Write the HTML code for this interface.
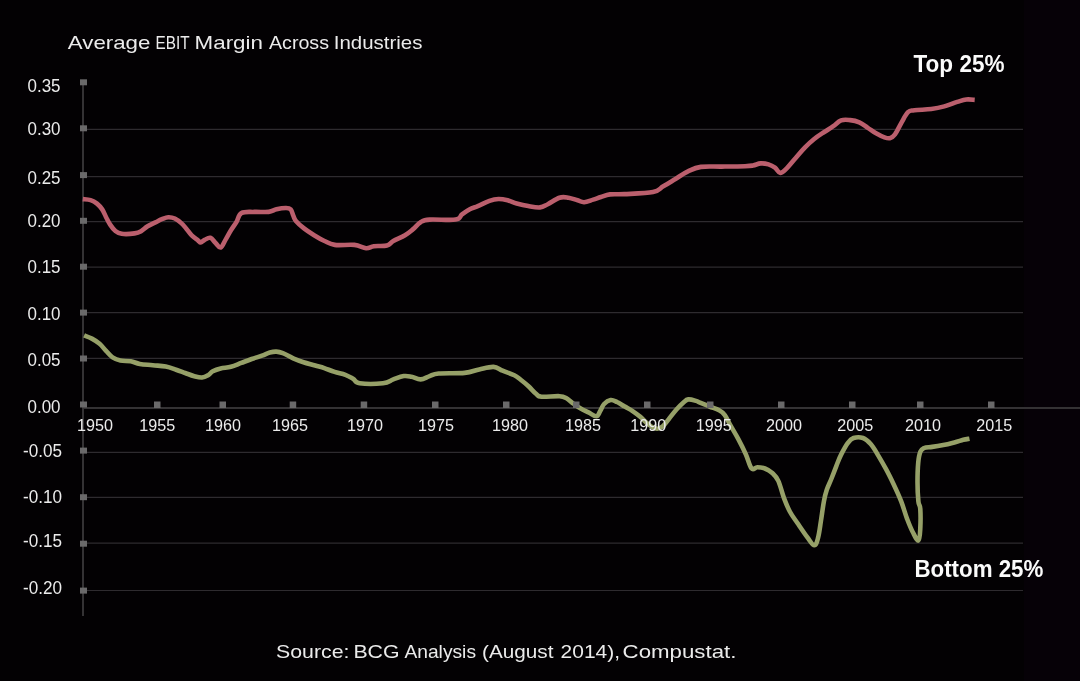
<!DOCTYPE html>
<html><head><meta charset="utf-8"><title>Average EBIT Margin</title>
<style>
html,body{margin:0;padding:0;background:#030103;width:1080px;height:681px;overflow:hidden}
svg{display:block;will-change:transform}
text{font-family:"Liberation Sans",sans-serif;fill:#ebebeb}
</style></head><body>
<svg width="1080" height="681" viewBox="0 0 1080 681">
<rect x="0" y="0" width="1080" height="681" fill="#030103"/>
<rect x="1024" y="0" width="56" height="681" fill="#060107"/>
<line x1="84" y1="129.4" x2="1023" y2="129.4" stroke="#2e2b2f" stroke-width="1.2"/>
<line x1="84" y1="176.6" x2="1023" y2="176.6" stroke="#2e2b2f" stroke-width="1.2"/>
<line x1="84" y1="221.7" x2="1023" y2="221.7" stroke="#2e2b2f" stroke-width="1.2"/>
<line x1="84" y1="267.2" x2="1023" y2="267.2" stroke="#2e2b2f" stroke-width="1.2"/>
<line x1="84" y1="312.6" x2="1023" y2="312.6" stroke="#2e2b2f" stroke-width="1.2"/>
<line x1="84" y1="358.4" x2="1023" y2="358.4" stroke="#2e2b2f" stroke-width="1.2"/>
<line x1="84" y1="452.3" x2="1023" y2="452.3" stroke="#2e2b2f" stroke-width="1.2"/>
<line x1="84" y1="497.3" x2="1023" y2="497.3" stroke="#2e2b2f" stroke-width="1.2"/>
<line x1="84" y1="543.1" x2="1023" y2="543.1" stroke="#2e2b2f" stroke-width="1.2"/>
<line x1="84" y1="590.5" x2="1023" y2="590.5" stroke="#2e2b2f" stroke-width="1.2"/>
<line x1="83" y1="80" x2="83" y2="616" stroke="#343234" stroke-width="2"/>
<line x1="83" y1="408" x2="1080" y2="408" stroke="#343234" stroke-width="2"/>
<path fill="none" stroke="#bb5f6d" stroke-width="4.6" stroke-linejoin="round" stroke-linecap="butt" d="M82.8,199.1 C84.2,199.3 88.0,199.3 90.6,200.1 C93.2,200.9 94.9,201.9 97.0,203.6 C99.1,205.3 100.6,207.0 102.2,209.4 C103.8,211.8 104.7,214.5 106.1,217.2 C107.5,219.9 108.4,222.0 110.0,224.4 C111.6,226.8 113.1,229.1 115.2,230.8 C117.3,232.5 118.2,233.3 121.7,233.8 C125.2,234.3 131.1,233.9 134.6,233.4 C138.1,232.9 138.8,232.5 141.1,231.2 C143.4,229.9 145.0,227.9 147.6,226.3 C150.2,224.7 152.8,223.7 155.4,222.4 C158.0,221.1 159.6,220.1 161.9,219.2 C164.2,218.3 166.0,217.3 168.3,217.2 C170.6,217.1 172.5,217.4 174.8,218.5 C177.1,219.6 179.2,221.2 181.3,223.1 C183.4,225.0 184.6,226.7 186.5,228.9 C188.4,231.1 189.6,233.3 191.7,235.4 C193.8,237.5 196.6,239.3 198.2,240.6 C199.8,241.9 199.5,242.6 200.7,242.5 C201.9,242.4 202.9,240.7 204.6,239.9 C206.3,239.1 208.4,237.2 210.4,237.8 C212.4,238.4 213.7,241.3 215.6,243.0 C217.5,244.7 218.8,248.2 220.7,247.5 C222.6,246.8 224.0,242.2 225.9,239.1 C227.8,235.9 229.2,233.0 231.1,230.0 C233.0,227.0 234.4,225.2 236.3,222.2 C238.2,219.2 238.2,215.0 241.5,213.1 C244.8,211.2 249.5,212.1 254.4,211.9 C259.3,211.7 264.7,212.4 268.7,211.9 C272.7,211.4 273.5,210.0 276.5,209.3 C279.5,208.6 283.0,208.0 285.6,208.0 C288.2,208.0 289.3,207.9 290.7,209.3 C292.1,210.7 292.4,213.6 293.3,215.7 C294.2,217.8 294.0,218.7 295.9,220.9 C297.8,223.1 300.4,225.5 303.7,228.1 C307.0,230.7 310.4,232.9 314.1,235.2 C317.8,237.5 320.8,239.3 324.5,241.0 C328.2,242.7 329.4,244.2 334.8,244.9 C340.2,245.6 348.8,244.3 354.4,244.9 C360.0,245.5 362.6,248.0 366.1,248.2 C369.6,248.4 370.2,246.7 373.9,246.2 C377.6,245.7 383.4,246.5 386.9,245.6 C390.4,244.7 390.0,242.9 393.3,241.0 C396.6,239.1 401.5,237.3 405.0,235.2 C408.5,233.1 410.0,231.7 412.8,229.4 C415.6,227.1 417.6,224.0 420.6,222.2 C423.6,220.4 423.3,220.1 429.6,219.6 C435.9,219.1 449.8,220.5 455.6,219.6 C461.4,218.7 459.4,216.3 462.0,214.4 C464.6,212.5 467.0,210.8 469.8,209.3 C472.6,207.8 474.3,207.6 477.8,206.1 C481.3,204.6 485.7,202.2 489.4,200.9 C493.1,199.6 495.2,199.1 498.5,199.0 C501.8,198.9 504.3,199.5 507.6,200.3 C510.9,201.1 513.0,202.5 516.7,203.5 C520.4,204.5 524.1,205.4 528.3,206.1 C532.5,206.8 536.5,207.7 540.0,207.4 C543.5,207.1 544.3,205.9 547.8,204.2 C551.3,202.5 555.7,198.9 559.4,197.7 C563.1,196.5 565.2,197.2 568.5,197.7 C571.8,198.2 574.8,199.5 577.6,200.3 C580.4,201.1 581.3,202.3 584.1,202.2 C586.9,202.1 590.2,200.5 593.2,199.6 C596.2,198.7 597.9,197.9 600.9,197.0 C603.9,196.1 605.8,194.9 610.0,194.4 C614.2,193.9 616.7,194.5 624.4,194.1 C632.1,193.7 646.0,193.5 653.0,192.1 C660.0,190.7 659.3,188.6 663.3,186.3 C667.3,184.0 670.6,181.9 675.0,179.2 C679.4,176.5 683.3,173.6 688.0,171.4 C692.7,169.2 694.8,167.8 700.9,166.9 C707.0,166.0 713.8,166.7 721.7,166.6 C729.6,166.5 739.4,166.4 745.0,166.2 C750.6,166.0 750.2,166.0 753.0,165.5 C755.8,165.0 757.9,163.6 760.7,163.4 C763.5,163.2 765.9,163.6 768.5,164.4 C771.1,165.2 772.9,166.2 775.0,167.7 C777.1,169.2 778.1,172.8 780.2,172.9 C782.3,173.0 783.9,171.0 786.7,168.3 C789.5,165.6 792.4,161.7 795.7,158.0 C799.0,154.3 801.5,151.0 804.8,147.6 C808.1,144.2 810.4,142.0 813.9,139.2 C817.4,136.4 820.8,134.3 824.3,132.0 C827.8,129.7 830.3,128.3 833.3,126.2 C836.3,124.1 838.1,121.5 841.1,120.4 C844.1,119.3 846.9,119.8 850.2,120.1 C853.5,120.4 856.1,120.9 859.3,122.3 C862.5,123.7 864.9,125.9 867.8,127.8 C870.7,129.7 872.8,131.4 875.6,133.0 C878.4,134.6 880.7,136.0 883.3,136.9 C885.9,137.8 887.7,138.7 889.8,138.2 C891.9,137.7 892.9,137.1 895.0,134.3 C897.1,131.5 899.2,126.6 901.5,122.6 C903.8,118.6 905.7,114.4 908.0,112.2 C910.3,110.0 910.2,110.9 914.4,110.3 C918.6,109.7 925.9,109.7 931.3,109.0 C936.7,108.3 939.6,107.7 944.3,106.4 C949.0,105.1 953.2,103.1 957.2,101.9 C961.2,100.7 963.1,99.9 966.3,99.5 C969.4,99.1 973.2,99.8 974.7,99.9"/>
<path fill="none" stroke="#96a068" stroke-width="4.6" stroke-linejoin="round" stroke-linecap="butt" d="M84.1,335.4 C85.5,336.0 89.1,337.1 91.9,338.6 C94.7,340.1 97.0,341.6 99.6,343.8 C102.2,346.0 103.8,348.5 106.1,350.9 C108.4,353.3 110.0,355.7 112.6,357.4 C115.2,359.1 117.1,359.9 120.4,360.6 C123.7,361.3 127.2,360.7 130.7,361.3 C134.2,361.9 135.8,363.2 139.8,363.9 C143.8,364.6 148.1,364.7 152.8,365.2 C157.5,365.7 161.5,365.7 165.7,366.5 C169.9,367.3 172.6,368.5 176.1,369.7 C179.6,370.9 181.9,371.8 185.2,373.0 C188.5,374.2 191.3,375.4 194.3,376.2 C197.3,377.0 199.4,377.7 202.0,377.5 C204.6,377.3 206.6,376.0 208.5,374.9 C210.4,373.8 210.6,372.5 212.8,371.3 C215.0,370.1 217.3,369.2 220.6,368.4 C223.9,367.6 227.2,367.8 230.9,366.8 C234.6,365.8 237.6,364.3 241.3,362.9 C245.0,361.5 248.0,360.3 251.7,359.0 C255.4,357.7 258.7,356.9 262.0,355.7 C265.3,354.5 267.2,353.2 269.8,352.5 C272.4,351.8 274.0,351.5 276.3,351.6 C278.6,351.7 279.8,351.9 282.8,353.1 C285.8,354.3 289.5,356.7 293.2,358.3 C296.9,359.9 299.5,360.9 303.5,362.2 C307.5,363.5 311.5,364.4 315.2,365.5 C318.9,366.6 320.8,366.9 324.3,368.1 C327.8,369.3 330.8,370.7 334.6,371.9 C338.4,373.1 342.1,373.6 345.4,374.8 C348.7,376.0 350.5,377.2 353.1,378.7 C355.7,380.2 354.2,382.4 359.6,383.2 C365.0,384.0 376.9,383.9 383.0,383.2 C389.1,382.5 389.6,380.7 393.3,379.4 C397.0,378.1 400.4,376.6 403.7,376.1 C407.0,375.6 408.5,376.2 411.5,376.8 C414.5,377.4 417.3,379.5 420.6,379.4 C423.9,379.3 426.3,377.2 429.6,376.1 C432.9,375.0 432.4,374.1 438.7,373.5 C445.0,372.9 457.3,373.6 464.6,372.9 C471.9,372.2 474.1,370.5 479.3,369.4 C484.5,368.3 489.3,366.7 493.5,366.9 C497.7,367.1 498.9,369.2 502.6,370.7 C506.3,372.2 511.0,373.7 514.3,375.3 C517.6,376.9 518.1,377.8 520.7,379.8 C523.3,381.8 525.7,383.7 528.5,386.3 C531.3,388.9 534.0,392.2 536.3,394.1 C538.6,396.0 537.3,396.3 541.5,396.7 C545.7,397.1 555.1,395.9 559.6,396.2 C564.1,396.5 564.1,397.0 566.5,398.3 C568.9,399.6 570.4,401.5 573.0,403.3 C575.6,405.1 577.9,406.9 580.7,408.5 C583.5,410.1 585.7,411.0 588.5,412.4 C591.3,413.8 594.2,416.5 596.3,416.3 C598.4,416.1 598.8,413.3 600.2,411.1 C601.6,408.9 602.2,406.0 604.1,404.0 C606.0,402.0 608.3,400.5 610.6,400.1 C612.9,399.7 614.4,400.8 617.0,402.0 C619.6,403.2 622.0,405.0 624.8,406.6 C627.6,408.2 629.8,409.2 632.6,411.1 C635.4,413.0 637.6,414.6 640.4,416.9 C643.2,419.2 645.4,422.0 648.2,424.1 C651.0,426.2 653.3,428.1 655.9,428.6 C658.5,429.1 660.1,428.4 662.4,426.7 C664.7,425.0 666.3,422.0 668.9,418.9 C671.5,415.8 674.1,412.1 676.7,409.2 C679.3,406.3 681.1,404.5 683.2,402.7 C685.3,400.9 686.0,399.7 688.3,399.4 C690.6,399.1 694.0,400.3 696.1,400.9 C698.2,401.5 697.6,401.6 700.0,402.6 C702.4,403.6 706.1,405.1 709.5,406.5 C712.9,407.9 716.3,408.8 719.1,410.3 C721.9,411.8 722.7,412.3 724.8,415.1 C726.9,417.9 728.2,421.3 730.6,425.6 C733.0,429.9 735.5,433.8 738.2,438.9 C740.9,444.0 743.4,448.9 745.8,454.2 C748.2,459.5 749.5,466.2 751.6,468.5 C753.7,470.8 754.9,467.2 757.3,467.2 C759.7,467.2 762.1,467.4 764.9,468.5 C767.7,469.6 770.2,471.1 772.6,473.3 C775.0,475.5 776.2,476.4 778.3,480.9 C780.4,485.4 781.9,492.6 784.0,498.1 C786.1,503.6 787.4,507.0 789.8,511.5 C792.2,516.0 794.2,518.3 797.4,523.0 C800.6,527.7 804.6,533.7 807.6,537.7 C810.6,541.7 812.4,545.3 814.3,545.3 C816.2,545.3 816.9,542.2 818.1,537.7 C819.3,533.2 820.0,527.0 821.0,520.5 C822.0,514.0 822.9,506.9 823.9,501.4 C824.9,495.9 825.3,494.0 826.7,489.9 C828.1,485.8 829.8,482.8 831.5,478.5 C833.2,474.2 834.6,470.4 836.3,466.1 C838.0,461.8 839.0,458.7 841.1,454.6 C843.2,450.5 845.5,446.1 847.7,443.1 C849.9,440.1 850.7,438.9 853.5,438.0 C856.3,437.1 859.9,436.9 863.0,438.0 C866.1,439.1 867.9,440.9 870.7,444.1 C873.5,447.3 875.6,451.1 878.3,455.6 C881.0,460.1 883.1,463.8 885.9,468.9 C888.7,474.0 890.8,478.3 893.6,484.2 C896.4,490.1 898.8,495.2 901.2,501.4 C903.6,507.6 904.9,513.1 907.0,518.6 C909.1,524.1 910.6,528.1 912.7,532.0 C914.8,535.9 917.0,541.2 918.4,540.5 C919.8,539.8 920.0,533.8 920.3,528.1 C920.6,522.4 920.6,513.8 920.3,509.0 C920.0,504.2 918.9,506.2 918.4,501.4 C917.9,496.6 917.5,489.2 917.5,482.3 C917.5,475.4 917.7,468.5 918.2,463.0 C918.7,457.5 919.3,454.4 920.4,451.7 C921.5,449.0 922.0,448.9 924.1,448.0 C926.2,447.1 928.7,447.4 932.2,446.9 C935.7,446.4 939.3,445.8 943.3,445.0 C947.3,444.2 950.8,443.3 954.4,442.4 C958.0,441.5 960.6,440.5 963.3,439.8 C966.0,439.1 968.4,438.9 969.5,438.7"/>
<rect x="80" y="79.3" width="7" height="6" fill="#6a696a"/>
<rect x="80" y="125.3" width="7" height="6" fill="#6a696a"/>
<rect x="80" y="172.1" width="7" height="6" fill="#6a696a"/>
<rect x="80" y="217.8" width="7" height="6" fill="#6a696a"/>
<rect x="80" y="263.7" width="7" height="6" fill="#6a696a"/>
<rect x="80" y="309.6" width="7" height="6" fill="#6a696a"/>
<rect x="80" y="355.5" width="7" height="6" fill="#6a696a"/>
<rect x="80" y="401.5" width="7" height="6" fill="#6a696a"/>
<rect x="80" y="447.6" width="7" height="6" fill="#6a696a"/>
<rect x="80" y="494.2" width="7" height="6" fill="#6a696a"/>
<rect x="80" y="540.7" width="7" height="6" fill="#6a696a"/>
<rect x="80" y="587.6" width="7" height="6" fill="#6a696a"/>
<rect x="154.0" y="401.5" width="6.5" height="6.5" fill="#6a696a"/>
<rect x="219.5" y="401.5" width="6.5" height="6.5" fill="#6a696a"/>
<rect x="289.7" y="401.5" width="6.5" height="6.5" fill="#6a696a"/>
<rect x="360.7" y="401.5" width="6.5" height="6.5" fill="#6a696a"/>
<rect x="432.0" y="401.5" width="6.5" height="6.5" fill="#6a696a"/>
<rect x="503.0" y="401.5" width="6.5" height="6.5" fill="#6a696a"/>
<rect x="573.0" y="401.5" width="6.5" height="6.5" fill="#6a696a"/>
<rect x="644.0" y="401.5" width="6.5" height="6.5" fill="#6a696a"/>
<rect x="707.0" y="401.5" width="6.5" height="6.5" fill="#6a696a"/>
<rect x="778.0" y="401.5" width="6.5" height="6.5" fill="#6a696a"/>
<rect x="849.0" y="401.5" width="6.5" height="6.5" fill="#6a696a"/>
<rect x="917.0" y="401.5" width="6.5" height="6.5" fill="#6a696a"/>
<rect x="988.0" y="401.5" width="6.5" height="6.5" fill="#6a696a"/>
<text x="60.5" y="92.4" font-size="17.5" text-anchor="end" textLength="33" lengthAdjust="spacingAndGlyphs">0.35</text>
<text x="60.5" y="134.9" font-size="17.5" text-anchor="end" textLength="33" lengthAdjust="spacingAndGlyphs">0.30</text>
<text x="60.5" y="183.9" font-size="17.5" text-anchor="end" textLength="33" lengthAdjust="spacingAndGlyphs">0.25</text>
<text x="60.5" y="227.4" font-size="17.5" text-anchor="end" textLength="33" lengthAdjust="spacingAndGlyphs">0.20</text>
<text x="60.5" y="273.4" font-size="17.5" text-anchor="end" textLength="33" lengthAdjust="spacingAndGlyphs">0.15</text>
<text x="60.5" y="319.7" font-size="17.5" text-anchor="end" textLength="33" lengthAdjust="spacingAndGlyphs">0.10</text>
<text x="60.5" y="365.7" font-size="17.5" text-anchor="end" textLength="33" lengthAdjust="spacingAndGlyphs">0.05</text>
<text x="60.5" y="413.4" font-size="17.5" text-anchor="end" textLength="33" lengthAdjust="spacingAndGlyphs">0.00</text>
<text x="62" y="457.4" font-size="17.5" text-anchor="end" textLength="39" lengthAdjust="spacingAndGlyphs">-0.05</text>
<text x="62" y="503.4" font-size="17.5" text-anchor="end" textLength="39" lengthAdjust="spacingAndGlyphs">-0.10</text>
<text x="62" y="547.4" font-size="17.5" text-anchor="end" textLength="39" lengthAdjust="spacingAndGlyphs">-0.15</text>
<text x="62" y="593.9" font-size="17.5" text-anchor="end" textLength="39" lengthAdjust="spacingAndGlyphs">-0.20</text>
<text x="95.0" y="431" font-size="16.5" text-anchor="middle" textLength="36" lengthAdjust="spacingAndGlyphs">1950</text>
<text x="157.3" y="431" font-size="16.5" text-anchor="middle" textLength="36" lengthAdjust="spacingAndGlyphs">1955</text>
<text x="223.0" y="431" font-size="16.5" text-anchor="middle" textLength="36" lengthAdjust="spacingAndGlyphs">1960</text>
<text x="290.0" y="431" font-size="16.5" text-anchor="middle" textLength="36" lengthAdjust="spacingAndGlyphs">1965</text>
<text x="365.0" y="431" font-size="16.5" text-anchor="middle" textLength="36" lengthAdjust="spacingAndGlyphs">1970</text>
<text x="436.0" y="431" font-size="16.5" text-anchor="middle" textLength="36" lengthAdjust="spacingAndGlyphs">1975</text>
<text x="510.0" y="431" font-size="16.5" text-anchor="middle" textLength="36" lengthAdjust="spacingAndGlyphs">1980</text>
<text x="583.0" y="431" font-size="16.5" text-anchor="middle" textLength="36" lengthAdjust="spacingAndGlyphs">1985</text>
<text x="648.3" y="431" font-size="16.5" text-anchor="middle" textLength="36" lengthAdjust="spacingAndGlyphs">1990</text>
<text x="713.8" y="431" font-size="16.5" text-anchor="middle" textLength="36" lengthAdjust="spacingAndGlyphs">1995</text>
<text x="783.9" y="431" font-size="16.5" text-anchor="middle" textLength="36" lengthAdjust="spacingAndGlyphs">2000</text>
<text x="855.3" y="431" font-size="16.5" text-anchor="middle" textLength="36" lengthAdjust="spacingAndGlyphs">2005</text>
<text x="923.0" y="431" font-size="16.5" text-anchor="middle" textLength="36" lengthAdjust="spacingAndGlyphs">2010</text>
<text x="994.2" y="431" font-size="16.5" text-anchor="middle" textLength="36" lengthAdjust="spacingAndGlyphs">2015</text>
<text x="67.80" y="49" font-size="18.5" textLength="82.60" lengthAdjust="spacingAndGlyphs">Average</text>
<text x="155.60" y="49" font-size="18.5" textLength="34.00" lengthAdjust="spacingAndGlyphs">EBIT</text>
<text x="194.60" y="49" font-size="18.5" textLength="68.40" lengthAdjust="spacingAndGlyphs">Margin</text>
<text x="269.00" y="49" font-size="18.5" textLength="60.00" lengthAdjust="spacingAndGlyphs">Across</text>
<text x="333.80" y="49" font-size="18.5" textLength="88.60" lengthAdjust="spacingAndGlyphs">Industries</text>
<text x="913.5" y="72.4" font-size="23" font-weight="bold" style="fill:#fbfbfb" textLength="91" lengthAdjust="spacingAndGlyphs">Top 25%</text>
<text x="914.4" y="576.6" font-size="23" font-weight="bold" style="fill:#fbfbfb" textLength="129" lengthAdjust="spacingAndGlyphs">Bottom 25%</text>
<text x="276.00" y="658.4" font-size="19" textLength="73.40" lengthAdjust="spacingAndGlyphs">Source:</text>
<text x="353.40" y="658.4" font-size="19" textLength="46.20" lengthAdjust="spacingAndGlyphs">BCG</text>
<text x="404.40" y="658.4" font-size="19" textLength="71.60" lengthAdjust="spacingAndGlyphs">Analysis</text>
<text x="482.00" y="658.4" font-size="19" textLength="71.40" lengthAdjust="spacingAndGlyphs">(August</text>
<text x="560.60" y="658.4" font-size="19" textLength="59.40" lengthAdjust="spacingAndGlyphs">2014),</text>
<text x="622.60" y="658.4" font-size="19" textLength="113.80" lengthAdjust="spacingAndGlyphs">Compustat.</text>
</svg>
</body></html>
